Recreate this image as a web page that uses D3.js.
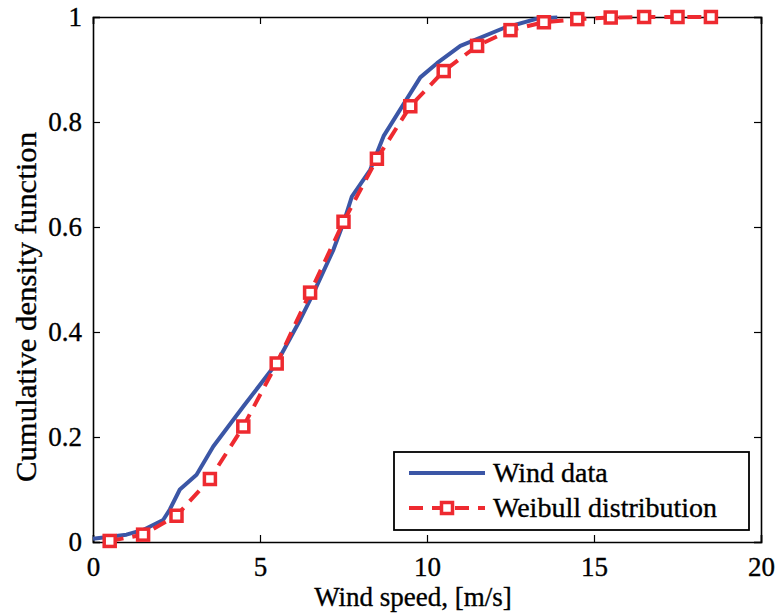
<!DOCTYPE html>
<html>
<head>
<meta charset="utf-8">
<script src="https://cdn.jsdelivr.net/npm/d3@7"></script>
<style>
  body { margin: 0; background: #fff; }
</style>
</head>
<body>
<div id="chart"></div>
<script>
// wind data (empirical CDF)
const windX = [0, 1, 1.5, 2.1, 2.3, 2.6, 3.1, 3.6, 4.5, 5.5, 6.2, 6.6, 7.2, 7.5, 7.75, 8.3, 8.7, 9.8, 10.3, 11.0, 12.3, 13.3, 13.9];
const windY = [0.006, 0.014, 0.023, 0.042, 0.062, 0.1, 0.128, 0.182, 0.258, 0.341, 0.423, 0.474, 0.557, 0.608, 0.658, 0.709, 0.773, 0.885, 0.912, 0.945, 0.979, 0.997, 0.999];

// weibull fit, sampled at bin centres
const weibX = [0.5, 1.5, 2.5, 3.5, 4.5, 5.5, 6.5, 7.5, 8.5, 9.5, 10.5, 11.5, 12.5, 13.5, 14.5, 15.5, 16.5, 17.5, 18.5];
const weibY = [0.002, 0.014, 0.05, 0.12, 0.22, 0.34, 0.475, 0.61, 0.73, 0.83, 0.897, 0.945, 0.975, 0.99, 0.996, 0.999, 1, 1, 1];

const xTicks = [0, 5, 10, 15, 20];
const yTicks = [0, 0.2, 0.4, 0.6, 0.8, 1];
const seriesNames = ['Wind data', 'Weibull distribution'];

const width = 778, height = 613;
const margin = { top: 17, right: 17, bottom: 71, left: 93 };
const font = '"Liberation Serif", "Times New Roman", Times, serif';

const blue = '#3b56a6';
const red = '#ee2a30';

const x = d3.scaleLinear().domain([0, 20]).range([margin.left, width - margin.right]);
const y = d3.scaleLinear().domain([0, 1]).range([height - margin.bottom, margin.top]);

const svg = d3.select('#chart').append('svg')
    .attr('width', width)
    .attr('height', height)
    .attr('font-family', font);

// inward ticks on all four sides, matlab style
const tl = 7;
svg.append('g')
    .attr('transform', `translate(0, ${y(0)})`)
    .call(d3.axisBottom(x).tickValues(xTicks).tickSize(-tl).tickPadding(tl + 8));
svg.append('g')
    .attr('transform', `translate(0, ${y(1)})`)
    .call(d3.axisTop(x).tickValues(xTicks).tickSize(-tl).tickFormat(''));
svg.append('g')
    .attr('transform', `translate(${x(0)}, 0)`)
    .call(d3.axisLeft(y).tickValues(yTicks).tickSize(-tl).tickPadding(tl + 4).tickFormat(d3.format('')));
svg.append('g')
    .attr('transform', `translate(${x(20)}, 0)`)
    .call(d3.axisRight(y).tickValues(yTicks).tickSize(-tl).tickFormat(''));

svg.selectAll('g').attr('font-family', font);
svg.selectAll('.tick text')
    .attr('font-size', 27)
    .attr('fill', '#000')
    .attr('stroke', '#000')
    .attr('stroke-width', 0.35)
    .attr('font-family', font);
svg.selectAll('.domain').attr('stroke', '#000').attr('stroke-width', 1.6);
svg.selectAll('.tick line').attr('stroke', '#000').attr('stroke-width', 1.2);

// axis titles
svg.append('text')
    .attr('x', 413)
    .attr('y', 606)
    .attr('text-anchor', 'middle')
    .attr('font-size', 27)
    .attr('stroke', '#000')
    .attr('stroke-width', 0.35)
    .attr('font-family', font)
    .text('Wind speed, [m/s]');

svg.append('text')
    .attr('transform', `translate(36, 307) rotate(-90)`)
    .attr('text-anchor', 'middle')
    .attr('font-size', 29)
    .attr('textLength', 350)
    .attr('lengthAdjust', 'spacingAndGlyphs')
    .attr('stroke', '#000')
    .attr('stroke-width', 0.35)
    .attr('font-family', font)
    .text('Cumulative density function');

const line = d3.line().x(d => x(d[0])).y(d => y(d[1]));
const windData = windX.map((v, i) => [v, windY[i]]);
const weibData = weibX.map((v, i) => [v, weibY[i]]);

svg.append('path')
    .datum(windData)
    .attr('fill', 'none')
    .attr('stroke', blue)
    .attr('stroke-width', 4)
    .attr('stroke-linejoin', 'round')
    .attr('d', line);

svg.append('path')
    .datum(weibData)
    .attr('fill', 'none')
    .attr('stroke', red)
    .attr('stroke-width', 4)
    .attr('stroke-dasharray', '14,9')
    .attr('d', line);

const ms = 11;
svg.selectAll('rect.marker')
    .data(weibData)
    .join('rect')
    .attr('class', 'marker')
    .attr('x', d => x(d[0]) - ms / 2)
    .attr('y', d => y(d[1]) - ms / 2)
    .attr('width', ms)
    .attr('height', ms)
    .attr('fill', '#fff')
    .attr('stroke', red)
    .attr('stroke-width', 3.5);

// legend
const legend = svg.append('g').attr('transform', 'translate(394, 452)');
legend.append('rect')
    .attr('width', 355)
    .attr('height', 78)
    .attr('fill', '#fff')
    .attr('stroke', '#000')
    .attr('stroke-width', 1.8);

const rows = legend.selectAll('g.entry')
    .data(seriesNames)
    .join('g')
    .attr('class', 'entry')
    .attr('transform', (d, i) => `translate(0, ${21 + i * 35})`);

rows.append('line')
    .attr('x1', 15).attr('x2', 91)
    .attr('stroke', (d, i) => i ? red : blue)
    .attr('stroke-width', 4)
    .attr('stroke-dasharray', (d, i) => i ? '14,9' : null);

rows.filter((d, i) => i === 1).append('rect')
    .attr('x', 53 - ms / 2).attr('y', -ms / 2)
    .attr('width', ms).attr('height', ms)
    .attr('fill', '#fff')
    .attr('stroke', red)
    .attr('stroke-width', 3.5);

rows.append('text')
    .attr('x', 99)
    .attr('y', 9)
    .attr('font-size', 28)
    .attr('stroke', '#000')
    .attr('stroke-width', 0.35)
    .attr('font-family', font)
    .text(d => d);
</script>
</body>
</html>
